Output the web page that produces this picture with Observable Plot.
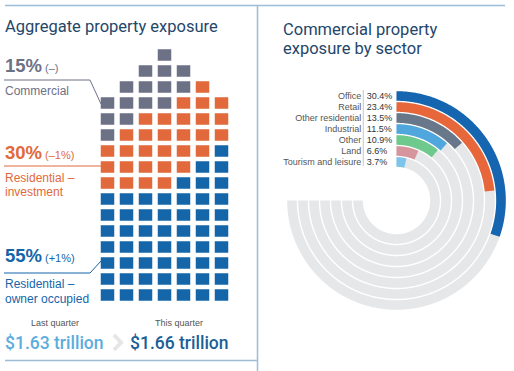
<!DOCTYPE html>
<html><head><meta charset="utf-8">
<script src="https://cdn.jsdelivr.net/npm/d3@7"></script>
<script src="https://cdn.jsdelivr.net/npm/@observablehq/plot@0.6"></script>
<style>
body{margin:0;background:#fff;}
#wrap{position:relative;width:514px;height:371px;overflow:hidden;}
#wrap > svg{position:absolute;left:0;top:0;}
</style></head><body><div id="wrap"></div>
<script>
// ---- Data: aggregate property exposure (waffle, 100 squares) ----
const categories = ["Commercial", "Residential – investment", "Residential – owner occupied"];
const categoryCodes = ["C", "I", "O"];
const shares = [15, 30, 55];
const changes = ["(–)", "(–1%)", "(+1%)"];
// waffle layout (top to bottom)
const waffleRows = [
  "   C   ",
  "  CCC  ",
  " CCCCI ",
  "CCCCIII",
  "CCIIIII",
  "CIIIIII",
  "IIIIIIO",
  "IIIIIOO",
  "IIIIOOO",
  "OOOOOOO",
  "OOOOOOO",
  "OOOOOOO",
  "OOOOOOO",
  "OOOOOOO",
  "OOOOOOO",
  "OOOOOOO"
];
const totalLabels = ["Last quarter", "This quarter"];
const totals = ["$1.63 trillion", "$1.66 trillion"];

// ---- Data: commercial property exposure by sector ----
const sectors = ["Office", "Retail", "Other residential", "Industrial", "Other", "Land", "Tourism and leisure"];
const sectorShares = [30.4, 23.4, 13.5, 11.5, 10.9, 6.6, 3.7];
const trackMax = 75; // grey tracks run to 75% of the full circle

// ---- Styles ----
const catColors = ["#6d7186", "#e1693b", "#1565a9"];
const sectorColors = ["#1565b0", "#e8673a", "#687789", "#4fa7de", "#6dca8c", "#d6949c", "#7dc4ea"];

const wrap = document.getElementById("wrap");

// ---- Waffle ----
const cells = [];
waffleRows.forEach((row, r) => {
  [...row].forEach((ch, c) => {
    if (ch !== " ") cells.push({row: r, col: c, cat: categories[categoryCodes.indexOf(ch)]});
  });
});
const waffle = Plot.plot({
  width: 514, height: 371, margin: 0,
  x: {type: "band", domain: d3.range(7), range: [98.25, 231.25], padding: 0, axis: null},
  y: {type: "band", domain: d3.range(waffleRows.length), range: [42.75, 306.75], padding: 0, axis: null},
  color: {domain: categories, range: catColors},
  marks: [
    Plot.cell(cells, {x: "col", y: "row", fill: "cat", insetLeft: 2.75, insetRight: 2.75, insetTop: 2.25, insetBottom: 2.25})
  ]
});
wrap.appendChild(waffle);

// ---- Radial bars ----
// radial unit: one ring = 1 unit; inner hole = 3 units; ring i (0 = outer) centre radius
const ringR = i => 3 + (sectors.length - 1 - i) + 0.5;
function arcPoints(i, pct, name, kind) {
  const pts = [];
  const end = pct * 3.6;
  const r = ringR(i);
  for (let a = 0; a <= end + 1e-9; a += 0.5) {
    const t = a * Math.PI / 180;
    pts.push({x: r * Math.sin(t), y: r * Math.cos(t), name, kind});
  }
  const t = end * Math.PI / 180;
  pts.push({x: r * Math.sin(t), y: r * Math.cos(t), name, kind});
  return pts;
}
const tracks = sectors.flatMap((s, i) => arcPoints(i, trackMax, s, "track"));
const bars = sectors.flatMap((s, i) => arcPoints(i, sectorShares[i], s, "bar"));
const legend = sectors.map((s, i) => ({name: s, value: sectorShares[i], y: ringR(i)}));

const radial = Plot.plot({
  width: 514, height: 371, margin: 0,
  style: {fontFamily: "Liberation Sans, Arial, sans-serif", background: "transparent"},
  x: {domain: [-10, 10], range: [286, 506], axis: null},
  y: {domain: [10, -10], range: [90, 310], axis: null},
  color: {domain: sectors, range: sectorColors},
  marks: [
    Plot.line(tracks, {x: "x", y: "y", z: "name", stroke: "#e6e7e8", strokeWidth: 9.6, strokeLinecap: "butt", strokeLinejoin: "round"}),
    Plot.line(bars, {x: "x", y: "y", z: "name", stroke: "name", strokeWidth: 9.6, strokeLinecap: "butt", strokeLinejoin: "round"}),
    Plot.ruleX([-3.02], {y1: 10, y2: 3.1, stroke: "#c8c8c8", strokeWidth: 1}),
    Plot.text(legend, {x: -3.2, y: "y", text: "name", textAnchor: "end", fontSize: 9, fill: "#555"}),
    Plot.text(legend, {x: -2.7, y: "y", text: d => d.value.toFixed(1) + "%", textAnchor: "start", fontSize: 9, fill: "#333"})
  ]
});
wrap.appendChild(radial);

// ---- Text, panel frames and annotations ----
const NS = "http://www.w3.org/2000/svg";
const ov = document.createElementNS(NS, "svg");
ov.setAttribute("width", 514); ov.setAttribute("height", 371);
wrap.appendChild(ov);
function el(tag, attrs, text) {
  const e = document.createElementNS(NS, tag);
  for (const k in attrs) e.setAttribute(k, attrs[k]);
  if (text != null) e.textContent = text;
  ov.appendChild(e);
  return e;
}
function txt(x, y, str, size, color, opts = {}) {
  return el("text", Object.assign({x, y, "font-size": size, fill: color,
    "font-family": opts.family || "Liberation Sans, Arial, sans-serif",
    "font-weight": opts.weight || "normal", "text-anchor": opts.anchor || "start"}, opts.extra || {}), str);
}
const frame = "#9dbdd8";
el("line", {x1: 5, y1: 5.5, x2: 505, y2: 5.5, stroke: frame, "stroke-width": 1.5});
el("line", {x1: 257.5, y1: 5, x2: 257.5, y2: 371, stroke: frame, "stroke-width": 1.5});
el("line", {x1: 5, y1: 360.5, x2: 257.5, y2: 360.5, stroke: frame, "stroke-width": 1.5});

const titleFont = "Roboto, sans-serif";
txt(5, 32, "Aggregate property exposure", 16.5, "#24466a", {family: titleFont});
txt(283, 35, "Commercial property", 16.5, "#24466a", {family: titleFont});
txt(283, 53.5, "exposure by sector", 16.5, "#24466a", {family: titleFont});

// category labels
const pctY = [72, 159, 262];
const lineY = [80, 166, 273];
const nameLines = [["Commercial"], ["Residential –", "investment"], ["Residential –", "owner occupied"]];
const nameY = [[95], [182, 196], [288, 303]];
const conn = [
  `M4,${lineY[0]} H90 L101,104`,
  `M4,${lineY[1]} H101`,
  `M4,${lineY[2]} H90 L101,261`
];
categories.forEach((c, i) => {
  const t = txt(5, pctY[i], shares[i] + "%", 18.5, catColors[i], {weight: "bold"});
  const ts = document.createElementNS(NS, "tspan");
  ts.setAttribute("font-size", 11); ts.setAttribute("font-weight", "normal"); ts.setAttribute("dx", 3);
  ts.textContent = changes[i];
  t.appendChild(ts);
  el("path", {d: conn[i], fill: "none", stroke: catColors[i], "stroke-width": 1});
  nameLines[i].forEach((s, j) => txt(5, nameY[i][j], s, 12, catColors[i]));
});

// totals
txt(55, 326, totalLabels[0], 9, "#555", {anchor: "middle"});
txt(179, 326, totalLabels[1], 9, "#555", {anchor: "middle"});
txt(5, 349, totals[0], 17.5, "#5badde", {family: titleFont, weight: 500});
txt(130, 349, totals[1], 17.5, "#1b5f97", {family: titleFont, weight: 500});
el("path", {d: "M114,335 L121,342.5 L114,350", fill: "none", stroke: "#e6e6e6", "stroke-width": 4});
</script></body></html>
